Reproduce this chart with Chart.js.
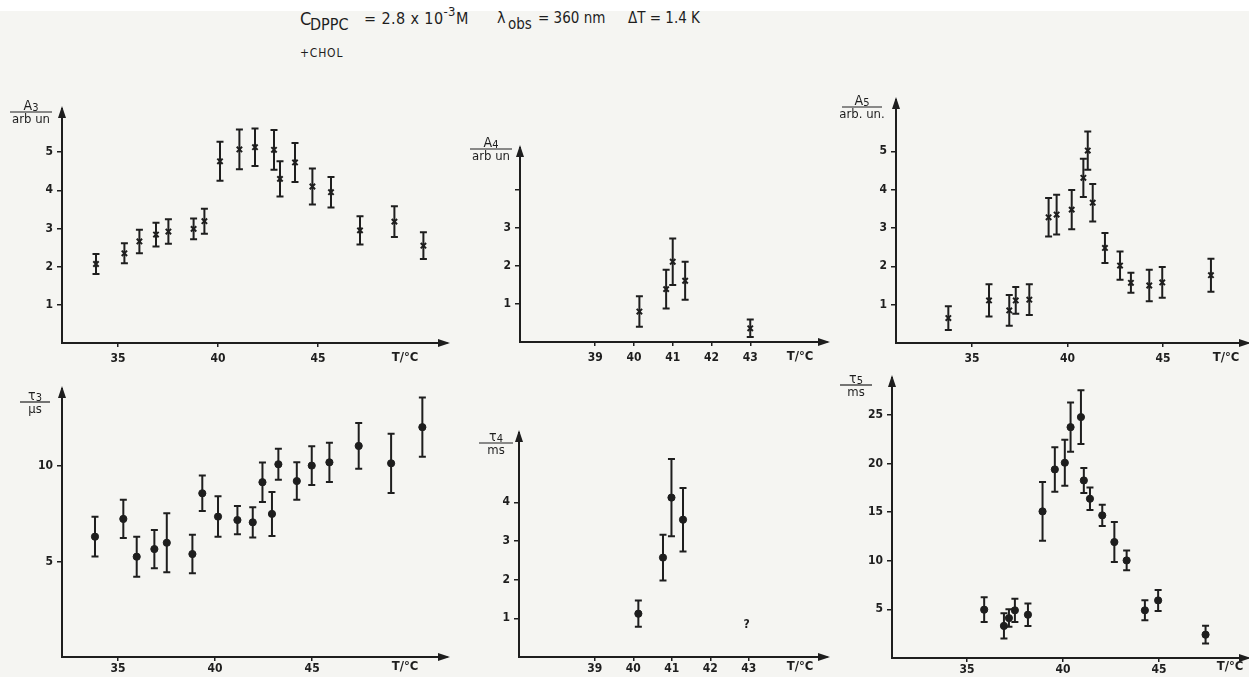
<!DOCTYPE html>
<html>
<head>
<meta charset="utf-8">
<script src="https://cdn.jsdelivr.net/npm/chart.js@4.4.1/dist/chart.umd.min.js"></script>
<style>
  body { margin: 0; width: 1249px; height: 677px; position: relative; overflow: hidden;
         background: #f5f5f2; color: #1e1e1e;
         font-family: "DejaVu Sans Condensed", "Liberation Sans Narrow", sans-serif; }
  .strip { position: absolute; left: 0; top: 0; width: 1249px; height: 11px; background: #fff; }
  .panel { position: absolute; }
  .t { position: absolute; white-space: nowrap; line-height: 1; }
  .t sup { font-size: 13px; position: relative; top: -8px; vertical-align: baseline; }
</style>
</head>
<body>
<div class="strip"></div>

<!-- header line -->
<span class="t" style="left:300px;top:10px;font-size:18px">C</span>
<span class="t" style="left:310px;top:17px;font-size:16px">DPPC</span>
<span class="t" style="left:364px;top:11px;font-size:16px;letter-spacing:0.4px">= 2.8 x 10<sup>-3</sup>M</span>
<span class="t" style="left:497px;top:10px;font-size:16px">λ</span>
<span class="t" style="left:508px;top:17px;font-size:15px">obs</span>
<span class="t" style="left:538px;top:11px;font-size:15px">= 360 nm</span>
<span class="t" style="left:628px;top:11px;font-size:15px">ΔT = 1.4 K</span>
<span class="t" style="left:300px;top:47px;font-size:12px;letter-spacing:0.8px">+CHOL</span>

<div class="panel" id="p1"><canvas id="c1"></canvas></div>
<div class="panel" id="p2"><canvas id="c2"></canvas></div>
<div class="panel" id="p3"><canvas id="c3"></canvas></div>
<div class="panel" id="p4"><canvas id="c4"></canvas></div>
<div class="panel" id="p5"><canvas id="c5"></canvas></div>
<div class="panel" id="p6"><canvas id="c6"></canvas></div>

<script>
// ---- data ----

// A3 / arb. un. (top left)
const a3Temp = [33.9, 35.32, 36.07, 36.9, 37.52, 38.78, 39.32, 40.1, 41.07, 41.85, 42.8, 43.1, 43.85, 44.72, 45.65, 47.1, 48.82, 50.27];
const a3Val  = [2.07, 2.35, 2.66, 2.84, 2.92, 2.99, 3.19, 4.76, 5.07, 5.13, 5.06, 4.3, 4.73, 4.1, 3.95, 2.95, 3.18, 2.55];
const a3Err  = [0.26, 0.26, 0.31, 0.31, 0.32, 0.27, 0.33, 0.51, 0.52, 0.49, 0.52, 0.46, 0.51, 0.47, 0.4, 0.37, 0.4, 0.35];

// tau3 / us (bottom left)
const t3Temp = [33.81, 35.27, 35.96, 36.87, 37.51, 38.83, 39.34, 40.15, 41.15, 41.94, 42.44, 42.93, 43.26, 44.21, 44.98, 45.89, 47.4, 49.07, 50.68];
const t3Val  = [6.3, 7.23, 5.25, 5.65, 5.98, 5.39, 8.57, 7.35, 7.17, 7.05, 9.15, 7.49, 10.09, 9.21, 10.02, 10.19, 11.05, 10.14, 12.03];
const t3Err  = [1.04, 1.0, 1.05, 1.0, 1.54, 1.01, 0.93, 1.06, 0.74, 0.79, 1.03, 1.15, 0.81, 0.98, 1.01, 1.03, 1.2, 1.55, 1.55];

// A4 / arb. un. (top middle)
const a4Temp = [40.14, 40.83, 41.0, 41.32, 43.0];
const a4Val  = [0.8, 1.39, 2.11, 1.61, 0.36];
const a4Err  = [0.4, 0.51, 0.61, 0.5, 0.23];

// tau4 / ms (bottom middle)
const t4Temp = [40.13, 40.77, 40.99, 41.29];
const t4Val  = [1.12, 2.57, 4.12, 3.55];
const t4Err  = [0.34, 0.59, 1.0, 0.82];
const t4Unknown = [42.94, 0.82]; // the "?" mark

// A5 / arb. un. (top right)
const a5Temp = [33.76, 35.89, 36.95, 37.29, 38.0, 39.01, 39.43, 40.22, 40.83, 41.06, 41.32, 41.96, 42.75, 43.32, 44.28, 44.96, 47.51];
const a5Val  = [0.65, 1.11, 0.85, 1.11, 1.13, 3.28, 3.35, 3.48, 4.31, 5.02, 3.66, 2.48, 2.02, 1.57, 1.5, 1.58, 1.77];
const a5Err  = [0.31, 0.42, 0.4, 0.35, 0.4, 0.5, 0.52, 0.51, 0.5, 0.5, 0.49, 0.39, 0.37, 0.26, 0.41, 0.4, 0.43];

// tau5 / ms (bottom right)
const t5Temp = [35.9, 36.93, 37.19, 37.5, 38.18, 38.94, 39.58, 40.1, 40.4, 40.94, 41.09, 41.41, 42.05, 42.68, 43.32, 44.27, 44.96, 47.43];
const t5Val  = [4.97, 3.3, 4.1, 4.9, 4.45, 15.07, 19.38, 20.07, 23.73, 24.76, 18.25, 16.37, 14.66, 11.92, 10.03, 4.9, 5.92, 2.4];
const t5Err  = [1.28, 1.3, 0.9, 1.2, 1.15, 3.03, 2.28, 2.36, 2.53, 2.77, 1.28, 1.16, 1.08, 2.05, 1.01, 1.03, 1.08, 0.91];

// tick labels
const tempTicksWide = [35, 40, 45];
const tempTicksNarrow = [39, 40, 41, 42, 43];
const aTicks = [1, 2, 3, 4, 5];
const a4Ticks = [1, 2, 3, 4];
const a4Labelled = [1, 2, 3];
const t3Ticks = [5, 10];
const t4Ticks = [1, 2, 3, 4];
const t5Ticks = [5, 10, 15, 20, 25];

// ---- drawing ----
const ink = '#1e1e1e';
const fam = '"DejaVu Sans Condensed", "Liberation Sans Narrow", sans-serif';

const errBars = {
  id: 'errBars',
  afterDatasetsDraw(chart) {
    const { ctx, scales: { x, y } } = chart;
    const ds = chart.data.datasets[0];
    ctx.save();
    ctx.strokeStyle = ink;
    ctx.lineWidth = 2;
    ds.data.forEach((p, i) => {
      const px = x.getPixelForValue(p.x);
      const top = y.getPixelForValue(p.y + ds.err[i]);
      const bot = y.getPixelForValue(p.y - ds.err[i]);
      ctx.beginPath();
      ctx.moveTo(px, top); ctx.lineTo(px, bot);
      ctx.moveTo(px - 3.5, top); ctx.lineTo(px + 3.5, top);
      ctx.moveTo(px - 3.5, bot); ctx.lineTo(px + 3.5, bot);
      ctx.stroke();
    });
    ctx.restore();
  }
};

const deco = {
  id: 'deco',
  afterDraw(chart, args, o) {
    const { ctx, chartArea: a } = chart;
    ctx.save();
    ctx.fillStyle = ink;
    ctx.strokeStyle = ink;
    // arrow heads
    ctx.beginPath();
    ctx.moveTo(a.left, a.top - 3);
    ctx.lineTo(a.left - 4, a.top + 9);
    ctx.lineTo(a.left + 4, a.top + 9);
    ctx.closePath();
    ctx.fill();
    ctx.beginPath();
    ctx.moveTo(a.right + 3, a.bottom);
    ctx.lineTo(a.right - 9, a.bottom - 4);
    ctx.lineTo(a.right - 9, a.bottom + 4);
    ctx.closePath();
    ctx.fill();

    // y title as a fraction
    const cx = a.left + o.fx, ly = a.top + o.fy;
    ctx.lineWidth = 1.2;
    ctx.beginPath();
    ctx.moveTo(cx - o.fw / 2, ly);
    ctx.lineTo(cx + o.fw / 2, ly);
    ctx.stroke();
    ctx.textAlign = 'left';
    ctx.textBaseline = 'alphabetic';
    ctx.font = '14px ' + fam;
    const w1 = ctx.measureText(o.sym).width;
    ctx.font = '11px ' + fam;
    const w2 = ctx.measureText(o.idx).width;
    const sx = cx - (w1 + w2) / 2;
    ctx.font = '14px ' + fam;
    ctx.fillText(o.sym, sx, ly - 2);
    ctx.font = '11px ' + fam;
    ctx.fillText(o.idx, sx + w1, ly - 1);
    ctx.font = '13px ' + fam;
    ctx.textAlign = 'center';
    ctx.textBaseline = 'top';
    ctx.fillText(o.unit, cx, ly + 1);

    // x title
    ctx.font = 'bold 13px ' + fam;
    ctx.textBaseline = 'middle';
    ctx.fillText('T/°C', a.right + o.tx, a.bottom + o.ty);

    // extra note
    if (o.note) {
      const { x, y } = chart.scales;
      ctx.font = 'bold 12px ' + fam;
      ctx.fillText('?', x.getPixelForValue(o.note[0]), y.getPixelForValue(o.note[1]));
    }
    ctx.restore();
  }
};

Chart.register(errBars, deco);

const YW = 60, PT = 22, PR = 6, XH = 30;

function makePanel(n, L, temps, vals, errs, style, xTicks, yTicks, yLabelled, title) {
  const box = document.getElementById('p' + n);
  const w = L.rx - L.ax + YW + PR;
  const h = L.by - L.ty + PT + XH;
  box.style.left = (L.ax - YW) + 'px';
  box.style.top = (L.ty - PT) + 'px';
  const cv = document.getElementById('c' + n);
  cv.width = w; cv.height = h;
  cv.style.width = w + 'px'; cv.style.height = h + 'px';

  const pts = temps.map((t, i) => ({ x: t, y: vals[i] }));
  const round = style === 'circle';
  new Chart(cv, {
    type: 'scatter',
    data: {
      datasets: [{
        data: pts,
        err: errs,
        pointStyle: round ? 'circle' : 'crossRot',
        pointRadius: round ? 3.6 : 3.8,
        borderWidth: round ? 1 : 2,
        borderColor: ink,
        backgroundColor: ink
      }]
    },
    options: {
      responsive: false,
      animation: false,
      events: [],
      layout: { padding: { top: PT, right: PR, left: 0, bottom: 0 } },
      plugins: {
        legend: { display: false },
        tooltip: { enabled: false },
        deco: Object.assign({}, title)
      },
      scales: {
        x: {
          type: 'linear',
          min: L.xmin, max: L.xmax,
          afterBuildTicks: s => { s.ticks = xTicks.map(v => ({ value: v })); },
          afterFit: s => { s.height = XH; },
          grid: { drawOnChartArea: false, color: ink, lineWidth: 1.5, tickLength: 4 },
          border: { color: ink, width: 2 },
          ticks: { color: ink, padding: L.xpad, maxRotation: 0, font: { family: fam, size: 12, weight: 'bold' } }
        },
        y: {
          type: 'linear',
          min: 0, max: L.ymax,
          afterBuildTicks: s => { s.ticks = yTicks.map(v => ({ value: v })); },
          afterFit: s => { s.width = YW; },
          grid: { drawOnChartArea: false, color: ink, lineWidth: 1.5, tickLength: 5 },
          border: { color: ink, width: 2 },
          ticks: {
            color: ink, padding: 4,
            font: { family: fam, size: 12, weight: 'bold' },
            callback: v => (yLabelled.includes(v) ? String(v) : '')
          }
        }
      }
    }
  });
}

makePanel(1, { ax: 62, rx: 447, ty: 109, by: 343, xmin: 32.2, xmax: 51.45, ymax: 6.13, xpad: 5 },
  a3Temp, a3Val, a3Err, 'cross', tempTicksWide, aTicks, aTicks,
  { sym: 'A', idx: '3', unit: 'arb un', fx: -31, fy: 3, fw: 42, tx: -42, ty: 15 });

makePanel(2, { ax: 62, rx: 447, ty: 389, by: 657, xmin: 32.11, xmax: 51.95, ymax: 14.03, xpad: 1 },
  t3Temp, t3Val, t3Err, 'circle', tempTicksWide, t3Ticks, t3Ticks,
  { sym: 'τ', idx: '3', unit: 'μs', fx: -27, fy: 13, fw: 30, tx: -42, ty: 10 });

makePanel(3, { ax: 520, rx: 827, ty: 148, by: 342, xmin: 37.06, xmax: 44.98, ymax: 5.1, xpad: 5 },
  a4Temp, a4Val, a4Err, 'cross', tempTicksNarrow, a4Ticks, a4Labelled,
  { sym: 'A', idx: '4', unit: 'arb un', fx: -29, fy: 1, fw: 42, tx: -27, ty: 15 });

makePanel(4, { ax: 519, rx: 827, ty: 433, by: 657, xmin: 37.03, xmax: 45.03, ymax: 5.79, xpad: 1 },
  t4Temp, t4Val, t4Err, 'circle', tempTicksNarrow, t4Ticks, t4Ticks,
  { sym: 'τ', idx: '4', unit: 'ms', fx: -23, fy: 10, fw: 34, tx: -27, ty: 10, note: t4Unknown });

makePanel(5, { ax: 896, rx: 1248, ty: 100, by: 343, xmin: 31.02, xmax: 49.45, ymax: 6.34, xpad: 5 },
  a5Temp, a5Val, a5Err, 'cross', tempTicksWide, aTicks, aTicks,
  { sym: 'A', idx: '5', unit: 'arb. un.', fx: -34, fy: 7, fw: 40, tx: -22, ty: 15 });

makePanel(6, { ax: 892, rx: 1248, ty: 378, by: 658, xmin: 31.1, xmax: 49.64, ymax: 28.78, xpad: 1 },
  t5Temp, t5Val, t5Err, 'circle', tempTicksWide, t5Ticks, t5Ticks,
  { sym: 'τ', idx: '5', unit: 'ms', fx: -36, fy: 7, fw: 32, tx: -18, ty: 9 });
</script>
</body>
</html>
